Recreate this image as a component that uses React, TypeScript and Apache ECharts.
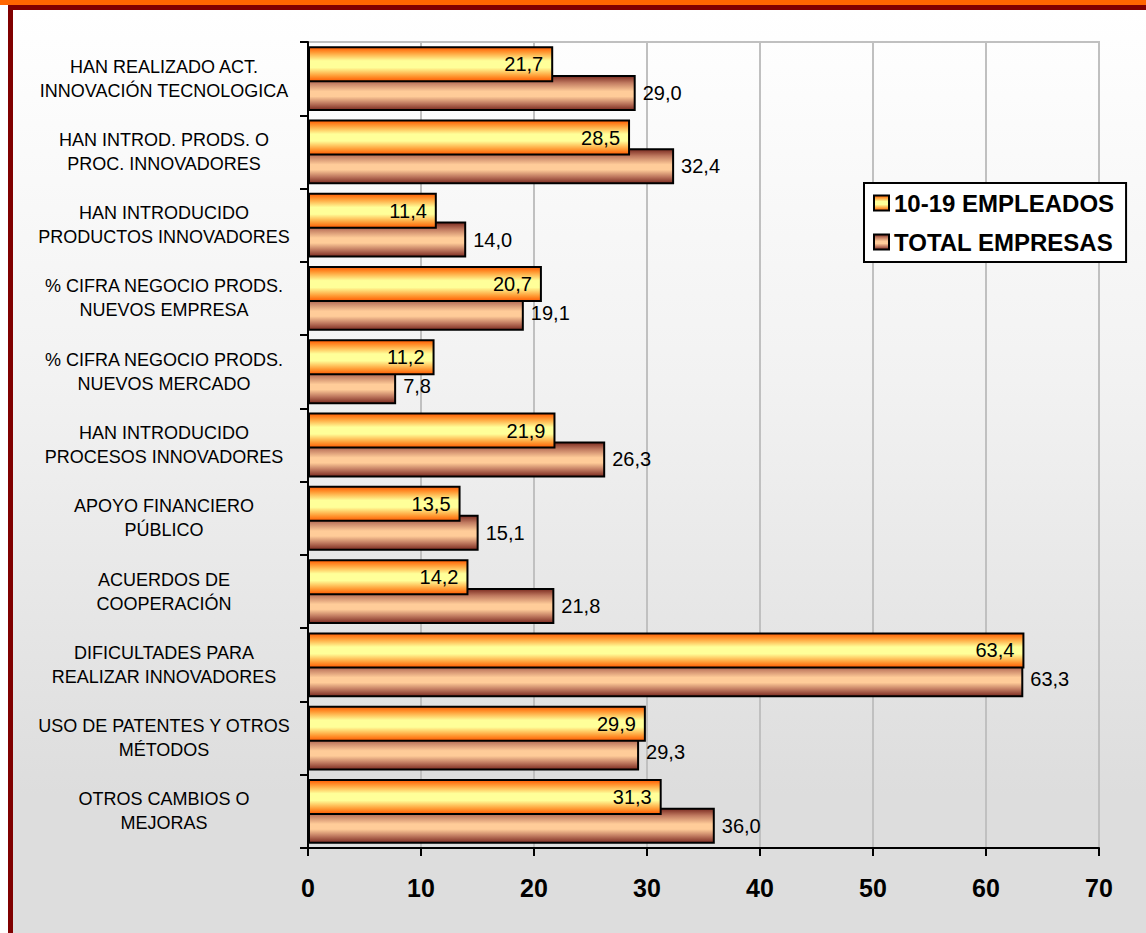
import React, { useEffect, useRef } from "react";
import * as echarts from "echarts";

const categories: string[] = [
  "HAN REALIZADO ACT.\nINNOVACIÓN TECNOLOGICA",
  "HAN INTROD. PRODS. O\nPROC. INNOVADORES",
  "HAN INTRODUCIDO\nPRODUCTOS INNOVADORES",
  "% CIFRA NEGOCIO PRODS.\nNUEVOS EMPRESA",
  "% CIFRA NEGOCIO PRODS.\nNUEVOS MERCADO",
  "HAN INTRODUCIDO\nPROCESOS INNOVADORES",
  "APOYO FINANCIERO\nPÚBLICO",
  "ACUERDOS DE\nCOOPERACIÓN",
  "DIFICULTADES PARA\nREALIZAR INNOVADORES",
  "USO DE PATENTES Y OTROS\nMÉTODOS",
  "OTROS CAMBIOS O\nMEJORAS",
];

const empleados10_19: number[] = [21.7, 28.5, 11.4, 20.7, 11.2, 21.9, 13.5, 14.2, 63.4, 29.9, 31.3];
const totalEmpresas: number[] = [29.0, 32.4, 14.0, 19.1, 7.8, 26.3, 15.1, 21.8, 63.3, 29.3, 36.0];

const seriesNames: string[] = ["10-19 EMPLEADOS", "TOTAL EMPRESAS"];

const FONT = 'Arial, "Liberation Sans", sans-serif';

const fmt = (v: number) => v.toFixed(1).replace(".", ",");

export default function App() {
  const ref = useRef<HTMLDivElement>(null);

  useEffect(() => {
    if (!ref.current) return;
    const chart = echarts.init(ref.current, null, { renderer: "svg" });

    const yellowGrad = new echarts.graphic.LinearGradient(0, 0, 0, 1, [
      { offset: 0, color: "#ff5a00" },
      { offset: 0.15, color: "#ff9933" },
      { offset: 0.4, color: "#ffff99" },
      { offset: 0.6, color: "#ffff99" },
      { offset: 0.85, color: "#ff9933" },
      { offset: 1, color: "#ff5a00" },
    ]);
    const brownGrad = new echarts.graphic.LinearGradient(0, 0, 0, 1, [
      { offset: 0, color: "#7a2a20" },
      { offset: 0.2, color: "#c07a60" },
      { offset: 0.45, color: "#ffcc99" },
      { offset: 0.6, color: "#ffcc99" },
      { offset: 0.8, color: "#c07a60" },
      { offset: 1, color: "#7a2a20" },
    ]);

    chart.setOption({
      animation: false,
      backgroundColor: "transparent",
      textStyle: { fontFamily: FONT },
      grid: {
        left: 308,
        top: 42,
        right: 47,
        bottom: 85,
        show: true,
        borderColor: "#c0c0c0",
        borderWidth: 2,
        backgroundColor: "transparent",
      },
      legend: {
        orient: "vertical",
        left: 864,
        top: 183,
        padding: [8, 12, 8, 9],
        itemGap: 15,
        itemWidth: 15,
        itemHeight: 15,
        backgroundColor: "#ffffff",
        borderColor: "#000000",
        borderWidth: 2,
        icon: "rect",
        textStyle: { fontFamily: FONT, fontSize: 24, fontWeight: "bold", color: "#000" },
        data: seriesNames,
      },
      xAxis: {
        type: "value",
        min: 0,
        max: 70,
        interval: 10,
        axisLine: { show: true, lineStyle: { color: "#000", width: 2 } },
        axisTick: { show: true, length: 8, lineStyle: { color: "#000", width: 2 } },
        axisLabel: { fontFamily: FONT, fontSize: 25, fontWeight: "bold", color: "#000", margin: 27 },
        splitLine: { show: true, lineStyle: { color: "#c0c0c0", width: 2 } },
      },
      yAxis: {
        type: "category",
        inverse: true,
        data: categories,
        axisLine: { show: true, lineStyle: { color: "#000", width: 2 } },
        axisTick: { show: true, length: 8, lineStyle: { color: "#000", width: 2 } },
        axisLabel: {
          interval: 0,
          fontFamily: FONT,
          fontSize: 18,
          lineHeight: 24,
          color: "#000",
          align: "center",
          margin: 144,
        },
        splitLine: { show: false },
      },
      series: [
        {
          name: seriesNames[0],
          type: "bar",
          data: empleados10_19,
          barWidth: 36,
          barGap: "-20%",
          z: 3,
          itemStyle: { color: yellowGrad, borderColor: "#000", borderWidth: 2 },
          label: {
            show: true,
            position: "insideRight",
            distance: 10,
            fontFamily: FONT,
            fontSize: 20,
            color: "#000",
            formatter: (p: any) => fmt(p.value),
          },
        },
        {
          name: seriesNames[1],
          type: "bar",
          data: totalEmpresas,
          barWidth: 36,
          z: 2,
          itemStyle: { color: brownGrad, borderColor: "#000", borderWidth: 2 },
          label: {
            show: true,
            position: "right",
            distance: 7,
            fontFamily: FONT,
            fontSize: 20,
            color: "#000",
            formatter: (p: any) => fmt(p.value),
          },
        },
      ],
    });

    return () => chart.dispose();
  }, []);

  return (
    <div style={{ position: "absolute", left: 0, top: 0, width: 1146, height: 933, overflow: "hidden", background: "#ffffff" }}>
      <div style={{ position: "absolute", left: 0, top: 0, width: 1146, height: 5, background: "#ff6600" }} />
      <div style={{ position: "absolute", left: 8, top: 5, right: 0, bottom: 0, background: "#800000" }} />
      <div
        style={{
          position: "absolute",
          left: 13,
          top: 10,
          right: 0,
          bottom: 0,
          background: "linear-gradient(to bottom, #ffffff 0%, #f2f2f2 40%, #dddddd 85%, #dddddd 100%)",
        }}
      />
      <div ref={ref} style={{ position: "absolute", left: 0, top: 0, width: 1146, height: 933 }} />
    </div>
  );
}
